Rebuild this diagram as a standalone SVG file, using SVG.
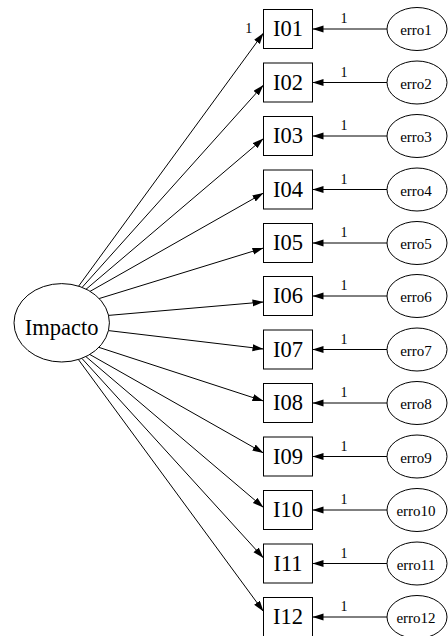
<svg xmlns="http://www.w3.org/2000/svg" width="448" height="636" viewBox="0 0 448 636">
<defs>
<marker id="ah" markerUnits="userSpaceOnUse" markerWidth="12" markerHeight="8" refX="11" refY="3.5" orient="auto">
<path d="M0,0 L11,3.5 L0,7 z" fill="#000"/>
</marker>
<style>
.n{fill:#fff;stroke:#000;stroke-width:1}
.e{fill:none;stroke:#000;stroke-width:1;marker-end:url(#ah)}
.t{font-family:"Liberation Serif","Times New Roman",serif;fill:#000;text-anchor:middle}
.big{font-size:22.5px}
.sm{font-size:15px}
.lb{font-size:14px}
</style>
</defs>
<rect width="448" height="636" fill="#fff"/>
<g id="connectors">
<line class="e" x1="78.5" y1="286.3" x2="263.5" y2="33"/>
<line class="e" x1="82" y1="287.5" x2="263.5" y2="85"/>
<line class="e" x1="86" y1="289.3" x2="263.5" y2="138.5"/>
<line class="e" x1="90" y1="291.4" x2="263.5" y2="193"/>
<line class="e" x1="99" y1="298.6" x2="263.5" y2="248"/>
<line class="e" x1="108.5" y1="315.4" x2="263.5" y2="302"/>
<line class="e" x1="108.5" y1="330.6" x2="263.5" y2="349"/>
<line class="e" x1="99" y1="347.4" x2="263.5" y2="401"/>
<line class="e" x1="90" y1="354.6" x2="263.5" y2="453"/>
<line class="e" x1="86" y1="356.7" x2="263.5" y2="507.5"/>
<line class="e" x1="82" y1="358.5" x2="263.5" y2="558"/>
<line class="e" x1="78.5" y1="359.7" x2="263.5" y2="611.5"/>
<line class="e" x1="387" y1="29" x2="312.5" y2="29"/>
<line class="e" x1="387" y1="82.5" x2="312.5" y2="82.5"/>
<line class="e" x1="387" y1="136" x2="312.5" y2="136"/>
<line class="e" x1="387" y1="189.5" x2="312.5" y2="189.5"/>
<line class="e" x1="387" y1="243" x2="312.5" y2="243"/>
<line class="e" x1="387" y1="296" x2="312.5" y2="296"/>
<line class="e" x1="387" y1="349.5" x2="312.5" y2="349.5"/>
<line class="e" x1="387" y1="403" x2="312.5" y2="403"/>
<line class="e" x1="387" y1="456.5" x2="312.5" y2="456.5"/>
<line class="e" x1="387" y1="510" x2="312.5" y2="510"/>
<line class="e" x1="387" y1="563.5" x2="312.5" y2="563.5"/>
<line class="e" x1="387" y1="617" x2="312.5" y2="617"/>
<text class="t lb" x="248.7" y="33">1</text>
<text class="t lb" x="344" y="23">1</text>
<text class="t lb" x="344" y="76.5">1</text>
<text class="t lb" x="344" y="130">1</text>
<text class="t lb" x="344" y="183.5">1</text>
<text class="t lb" x="344" y="237">1</text>
<text class="t lb" x="344" y="290">1</text>
<text class="t lb" x="344" y="343.5">1</text>
<text class="t lb" x="344" y="397">1</text>
<text class="t lb" x="344" y="450.5">1</text>
<text class="t lb" x="344" y="504">1</text>
<text class="t lb" x="344" y="557.5">1</text>
<text class="t lb" x="344" y="611">1</text>
</g>
<g id="Impacto"><ellipse class="n" cx="61.7" cy="322.8" rx="47.7" ry="39.2"/><text class="t big" x="61.7" y="335">Impacto</text></g>
<g id="I01"><rect class="n" x="263.5" y="9.5" width="49" height="39"/><text class="t big" x="288" y="36">I01</text></g>
<g id="I02"><rect class="n" x="263.5" y="63" width="49" height="39"/><text class="t big" x="288" y="89.5">I02</text></g>
<g id="I03"><rect class="n" x="263.5" y="116.5" width="49" height="39"/><text class="t big" x="288" y="143">I03</text></g>
<g id="I04"><rect class="n" x="263.5" y="170" width="49" height="39"/><text class="t big" x="288" y="196.5">I04</text></g>
<g id="I05"><rect class="n" x="263.5" y="223.5" width="49" height="39"/><text class="t big" x="288" y="250">I05</text></g>
<g id="I06"><rect class="n" x="263.5" y="276.5" width="49" height="39"/><text class="t big" x="288" y="303">I06</text></g>
<g id="I07"><rect class="n" x="263.5" y="330" width="49" height="39"/><text class="t big" x="288" y="356.5">I07</text></g>
<g id="I08"><rect class="n" x="263.5" y="383.5" width="49" height="39"/><text class="t big" x="288" y="410">I08</text></g>
<g id="I09"><rect class="n" x="263.5" y="437" width="49" height="39"/><text class="t big" x="288" y="463.5">I09</text></g>
<g id="I10"><rect class="n" x="263.5" y="490.5" width="49" height="39"/><text class="t big" x="288" y="517">I10</text></g>
<g id="I11"><rect class="n" x="263.5" y="544" width="49" height="39"/><text class="t big" x="288" y="570.5">I11</text></g>
<g id="I12"><rect class="n" x="263.5" y="597.5" width="49" height="39"/><text class="t big" x="288" y="624">I12</text></g>
<g id="erro1"><ellipse class="n" cx="417" cy="29" rx="30" ry="21.5"/><text class="t sm" x="416" y="35">erro1</text></g>
<g id="erro2"><ellipse class="n" cx="417" cy="82.5" rx="30" ry="21.5"/><text class="t sm" x="416" y="88.5">erro2</text></g>
<g id="erro3"><ellipse class="n" cx="417" cy="136" rx="30" ry="21.5"/><text class="t sm" x="416" y="142">erro3</text></g>
<g id="erro4"><ellipse class="n" cx="417" cy="189.5" rx="30" ry="21.5"/><text class="t sm" x="416" y="195.5">erro4</text></g>
<g id="erro5"><ellipse class="n" cx="417" cy="243" rx="30" ry="21.5"/><text class="t sm" x="416" y="249">erro5</text></g>
<g id="erro6"><ellipse class="n" cx="417" cy="296" rx="30" ry="21.5"/><text class="t sm" x="416" y="302">erro6</text></g>
<g id="erro7"><ellipse class="n" cx="417" cy="349.5" rx="30" ry="21.5"/><text class="t sm" x="416" y="355.5">erro7</text></g>
<g id="erro8"><ellipse class="n" cx="417" cy="403" rx="30" ry="21.5"/><text class="t sm" x="416" y="409">erro8</text></g>
<g id="erro9"><ellipse class="n" cx="417" cy="456.5" rx="30" ry="21.5"/><text class="t sm" x="416" y="462.5">erro9</text></g>
<g id="erro10"><ellipse class="n" cx="417" cy="510" rx="30" ry="21.5"/><text class="t sm" x="416" y="516">erro10</text></g>
<g id="erro11"><ellipse class="n" cx="417" cy="563.5" rx="30" ry="21.5"/><text class="t sm" x="416" y="569.5">erro11</text></g>
<g id="erro12"><ellipse class="n" cx="417" cy="617" rx="30" ry="21.5"/><text class="t sm" x="416" y="623">erro12</text></g>
</svg>
